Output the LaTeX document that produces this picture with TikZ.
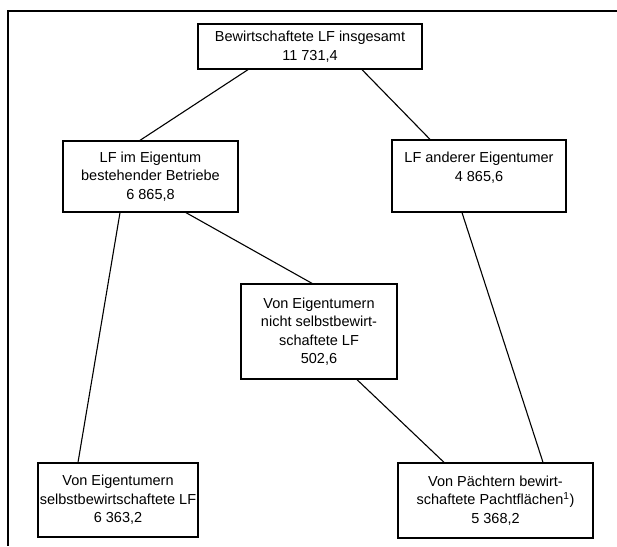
\documentclass[tikz,border=0pt]{standalone}
\usepackage{fontspec}
\setmainfont{Liberation Sans}
\begin{document}
\begin{tikzpicture}[x=1pt,y=-1pt,
  box/.style={draw=black, line width=1.3pt, inner sep=0pt, align=center,
    font=\fontsize{14.5}{18.5}\selectfont},
  conn/.style={draw=black, line width=1.1pt},
  frame/.style={draw=black, line width=1.2pt}]
\useasboundingbox (0,0) rectangle (617,546);
\draw[frame] (617,11) -- (8,11) -- (8,546);
\node[box, minimum width=224pt, minimum height=45pt] (top) at (310,46.5)
  {Bewirtschaftete LF insgesamt\\11 731,4};
\node[box, minimum width=175pt, minimum height=71pt] (lmid) at (150.5,176.5)
  {LF im Eigentum\\bestehender Betriebe\\6 865,8};
\node[box, minimum width=174pt, minimum height=72pt] (rmid) at (479,176)
  {LF anderer Eigentumer\\4 865,6\\\mbox{}};
\node[box, minimum width=156pt, minimum height=95pt] (mid) at (319,331.5)
  {Von Eigentumern\\nicht selbstbewirt-\\schaftete LF\\502,6};
\node[box, minimum width=160pt, minimum height=74pt] (bl) at (118,500)
  {Von Eigentumern\\selbstbewirtschaftete LF\\6 363,2};
\node[box, minimum width=195pt, minimum height=75pt] (br) at (495.5,500.5)
  {Von Pächtern bewirt-\\schaftete Pachtflächen\textsuperscript{1})\\5 368,2};
\draw[conn] (top.south -| 248,0) -- (lmid.north -| 140,0);
\draw[conn] (top.south -| 362,0) -- (rmid.north -| 430,0);
\draw[conn] (lmid.south -| 120,0) -- (bl.north -| 78,0);
\draw[conn] (lmid.south -| 186,0) -- (mid.north -| 312,0);
\draw[conn] (mid.south -| 357,0) -- (br.north -| 444,0);
\draw[conn] (rmid.south -| 462,0) -- (br.north -| 543,0);
\end{tikzpicture}
\end{document}
